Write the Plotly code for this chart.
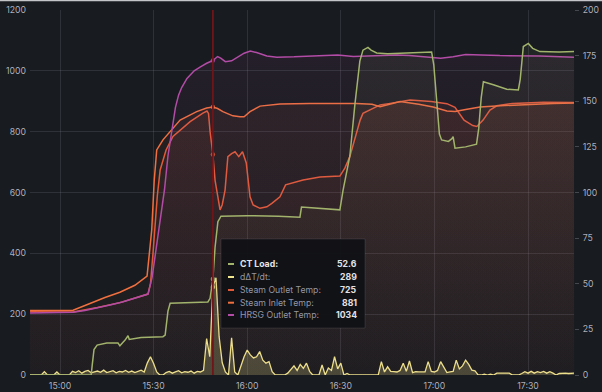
import pandas as pd
import plotly.graph_objects as go

BASE = pd.Timestamp("2024-05-01 15:00:00")


def ts(mins):
    return [BASE + pd.Timedelta(minutes=float(m)) for m in mins]


# ---------------- data (minutes after 15:00) ----------------
# CT Load (right axis)
ct_t = [-9.6, 10.0, 10.3, 10.9, 11.9, 15.0, 18.6, 19.2, 20.2, 20.8,
        21.8, 22.2, 26.0, 33.0, 33.7, 34.6, 35.3, 40.0, 47.4, 48.1,
        49.0, 49.7, 50.6, 51.6, 60.0, 70.0, 76.9, 77.4, 83.3, 88.8,
        89.7, 90.7, 92.9, 94.5, 96.1, 97.1, 98.7, 99.7, 101.5, 105.0,
        110.0, 115.0, 119.1, 119.8, 120.8, 121.6, 122.3, 124.5, 125.6, 126.0,
        126.6, 130.0, 133.5, 134.2, 135.0, 135.7, 138.9, 143.2, 146.9, 147.5,
        148.5, 150.1, 151.5, 153.8, 160.0, 164.8]
ct_v = [0, 0, 5, 14, 16.4, 17.5, 17.5, 16, 18, 19,
        21.5, 19.5, 20.5, 21, 21.9, 35, 39.3, 39.5, 40, 42,
        52.6, 70, 84, 87, 87.3, 87, 86.5, 92, 91.3, 90.4,
        90.5, 101, 120, 148, 172, 178, 179.5, 178, 176.5, 176,
        176.5, 177, 177, 170, 150, 132, 128.8, 128, 129.5, 130.6,
        124.3, 125, 126.5, 135, 152, 160.7, 159, 156.6, 156.2, 162,
        180, 181.7, 179, 177.2, 177, 177.2]

# dDeltaT/dt (left axis), one sample per minute from 14:50
dadt_t = list(range(-10, 166))
dadt_v = [0, 0, 0, 0, 0, 11, 0, 0, 0, 10,
          0, 0, 0, 0, 12, 8, 14, 6, 12, 15,
          7, 10, 13, 9, 16, 8, 11, 14, 7, 12,
          10, 15, 9, 13, 8, 12, 16, 10, 40, 60,
          38, 10, 0, 0, 8, 12, 6, 10, 14, 7,
          11, 9, 13, 6, 12, 10, 15, 120, 60, 289,
          320, 126, 40, 10, 0, 122, 10, 0, 30, 60,
          82, 66, 56, 60, 77, 49, 39, 44, 11, 0,
          0, 0, 0, 6, 18, 30, 15, 35, 22, 39,
          12, 0, 0, 0, 33, 0, 23, 15, 60, 20,
          39, 0, 5, 0, 0, 0, 0, 0, 0, 0,
          0, 0, 0, 44, 10, 27, 12, 11, 10, 15,
          39, 12, 46, 8, 11, 10, 11, 10, 44, 12,
          10, 15, 44, 27, 8, 10, 12, 49, 20, 30,
          49, 35, 16, 14, 0, 0, 3, 0, 3, 0,
          6, 6, 6, 5, 6, 0, 0, 0, 5, 11,
          6, 12, 6, 11, 8, 12, 6, 11, 6, 0,
          5, 6, 6, 5, 6, 6]

# Steam Outlet Temp (left axis)
so_t = [-9.6, 4.2, 12.0, 19.2, 28.2, 29.0, 29.8, 30.4, 31.2, 32.1,
        34.0, 36.2, 41.7, 45.8, 47.1, 47.6, 48.1, 49.0, 49.7, 51.3,
        52.0, 52.9, 53.8, 55.0, 56.1, 57.3, 58.5, 59.7, 60.9, 61.9,
        64.1, 66.3, 67.9, 70.5, 72.3, 77.9, 83.3, 89.7, 91.3, 92.9,
        94.5, 96.2, 97.1, 99.4, 102.6, 105.8, 112.2, 119.0, 124.0, 126.6,
        127.2, 129.5, 132.3, 133.6, 135.6, 137.8, 140.0, 145.0, 155.0, 164.8]
so_v = [208, 207, 222, 238, 266, 300, 400, 477, 590, 674,
        740, 784, 833, 861, 868, 860, 800, 725, 640, 543,
        560, 608, 718, 728, 734, 718, 734, 697, 586, 559,
        548, 553, 564, 586, 625, 641, 651, 654, 680, 718,
        773, 838, 860, 871, 888, 893, 904, 899, 892, 880,
        871, 838, 820, 817, 838, 871, 885, 893, 897, 896]

# Steam Inlet Temp (left axis)
si_t = [-9.6, 4.2, 9.6, 14.4, 19.2, 24.0, 27.9, 28.6, 29.4, 30.2,
        31.0, 33.0, 38.5, 43.8, 47.0, 49.0, 50.5, 52.2, 55.4, 57.7,
        59.0, 60.9, 64.1, 70.5, 80.0, 95.0, 100.0, 102.6, 105.8, 109.0,
        115.0, 119.6, 124.0, 126.6, 130.0, 134.6, 141.0, 150.0, 158.0, 164.8]
si_v = [212, 213, 235, 255, 272, 295, 325, 400, 477, 640,
        740, 773, 838, 866, 878, 881, 876, 866, 852, 849,
        849, 866, 884, 891, 893, 893, 890, 882, 890, 899,
        890, 881, 868, 866, 873, 881, 885, 890, 893, 894]

# HRSG Outlet Temp (left axis)
hr_t = [-9.6, -5.0, 0.0, 4.2, 8.0, 12.0, 16.0, 20.0, 24.0, 28.2,
        29.5, 30.5, 31.5, 32.5, 33.5, 34.6, 35.9, 37.0, 38.0, 39.0,
        40.7, 43.0, 45.0, 47.0, 49.0, 50.5, 51.5, 53.0, 55.0, 57.0,
        59.0, 61.0, 63.0, 66.3, 69.5, 75.0, 80.0, 89.0, 94.0, 102.6,
        108.0, 112.0, 118.0, 122.0, 126.0, 130.0, 135.0, 141.0, 153.8, 164.8]
hr_v = [204, 204, 205, 206, 212, 220, 230, 240, 252, 266,
        320, 390, 460, 530, 610, 720, 815, 880, 920, 945,
        975, 1000, 1013, 1025, 1034, 1047, 1042, 1030, 1033, 1045,
        1058, 1065, 1060, 1049, 1045, 1046, 1048, 1052, 1047, 1049,
        1052, 1050, 1046, 1041, 1046, 1054, 1052, 1050, 1049, 1045]

# hover readout at 15:49
hover_t = 49.0
hover_labels = ["CT Load:", "dΔT/dt:", "Steam Outlet Temp:", "Steam Inlet Temp:", "HRSG Outlet Temp:"]
hover_values = [52.6, 289, 725, 881, 1034]
hover_text = ["52.6", "289", "725", "881", "1034"]

# ---------------- styling ----------------
BG = "#181b1f"
GRID = "rgba(204,204,220,0.13)"
TXT = "rgba(204,204,220,0.85)"
FONT = "Inter"

C_CT = "#a2b36c"
C_DA = "#eee58e"
C_SO = "#e05a3a"
C_SI = "#f0703f"
C_HR = "#b24ca6"


def grad(rgb, a_top, a_bot, top):
    return dict(type="vertical", start=0, stop=top,
                colorscale=[[0, f"rgba({rgb},{a_bot})"], [1, f"rgba({rgb},{a_top})"]])


fig = go.Figure()

fig.add_trace(go.Scatter(x=ts(dadt_t), y=dadt_v, mode="lines", name="dΔT/dt",
                         line=dict(color=C_DA, width=1.3), fill="tozeroy",
                         fillcolor="rgba(238,229,142,0.22)"))
fig.add_trace(go.Scatter(x=ts(so_t), y=so_v, mode="lines", name="Steam Outlet Temp",
                         line=dict(color=C_SO, width=1.5), fill="tozeroy",
                         fillgradient=grad("224,90,58", 0.09, 0.015, 1200)))
fig.add_trace(go.Scatter(x=ts(si_t), y=si_v, mode="lines", name="Steam Inlet Temp",
                         line=dict(color=C_SI, width=1.5), fill="tozeroy",
                         fillgradient=grad("240,112,63", 0.08, 0.015, 1200)))
fig.add_trace(go.Scatter(x=ts(hr_t), y=hr_v, mode="lines", name="HRSG Outlet Temp",
                         line=dict(color=C_HR, width=1.5), fill="tozeroy",
                         fillgradient=grad("178,76,166", 0.085, 0.01, 1200)))
fig.add_trace(go.Scatter(x=ts(ct_t), y=ct_v, mode="lines", name="CT Load", yaxis="y2",
                         line=dict(color=C_CT, width=1.5), fill="tozeroy",
                         fillgradient=grad("162,179,108", 0.08, 0.0, 200)))

# hover points
cols = [C_CT, C_DA, C_SO, C_SI, C_HR]
ht = ts([hover_t])
for i, (lab, val) in enumerate(zip(hover_labels, hover_values)):
    fig.add_trace(go.Scatter(x=ht, y=[val], mode="markers", yaxis="y2" if i == 0 else "y",
                             marker=dict(size=4.5, color=cols[i], opacity=0.8),
                             showlegend=False))

x0 = BASE + pd.Timedelta(minutes=-9.615)
x1 = BASE + pd.Timedelta(minutes=164.74)

shapes = []
# hover / annotation red line
shapes.append(dict(type="line", xref="x", yref="paper", x0=ht[0], x1=ht[0], y0=0, y1=1,
                   line=dict(color="#6e1519", width=1.8), layer="above"))
# tooltip box
PW, PH, PL, PT = 544.0, 365.0, 30.0, 10.0


def px(x):
    return (x - PL) / PW


def py(y):
    return 1 - (y - PT) / PH


shapes.append(dict(type="rect", xref="paper", yref="paper", x0=px(221), x1=px(365),
                   y0=py(328), y1=py(239), fillcolor="rgba(17,18,22,0.96)",
                   line=dict(color="rgba(204,204,220,0.12)", width=1), layer="above"))
# top border of screenshot
shapes.append(dict(type="line", xref="paper", yref="paper", x0=-PL / PW, x1=(602 - PL) / PW,
                   y0=1 + 9.5 / PH, y1=1 + 9.5 / PH, line=dict(color="#c4c5c9", width=1.5)))

annotations = []
rows_y = [264, 277, 290, 302.7, 315]
for i, (lab, txt) in enumerate(zip(hover_labels, hover_text)):
    yy = py(rows_y[i])
    shapes.append(dict(type="line", xref="paper", yref="paper", x0=px(228), x1=px(234),
                       y0=yy, y1=yy, line=dict(color=cols[i], width=2), layer="above"))
    if i == 0:
        lab_txt = f"<b>{lab}</b>"
        lab_col = "#e6e6ea"
    else:
        lab_txt = lab
        lab_col = "rgba(204,204,220,0.72)"
    annotations.append(dict(xref="paper", yref="paper", x=px(237.5), y=yy, text=lab_txt,
                            showarrow=False, xanchor="left", yanchor="middle",
                            font=dict(family=FONT, size=8.7, color=lab_col)))
    annotations.append(dict(xref="paper", yref="paper", x=px(358.5), y=yy, text=f"<b>{txt}</b>",
                            showarrow=False, xanchor="right", yanchor="middle",
                            font=dict(family=FONT, size=8.7, color="#e2e2e6")))

fig.update_layout(
    width=602, height=392,
    margin=dict(l=30, r=28, t=10, b=17),
    paper_bgcolor=BG, plot_bgcolor=BG,
    showlegend=False,
    font=dict(family=FONT, size=8.7, color=TXT),
    shapes=shapes, annotations=annotations,
    xaxis=dict(type="date", range=[x0, x1], tick0=BASE, dtick=30 * 60 * 1000,
               tickformat="%H:%M", showgrid=True, gridcolor=GRID, gridwidth=1,
               zeroline=False, showline=False, ticks="", ticklabelstandoff=4,
               tickfont=dict(family=FONT, size=8.7, color=TXT), automargin=False),
    yaxis=dict(range=[0, 1200], dtick=200, showgrid=True, gridcolor=GRID, gridwidth=1,
               zeroline=False, showline=False, ticks="", ticklabelstandoff=3,
               tickfont=dict(family=FONT, size=8.7, color=TXT), automargin=False),
    yaxis2=dict(range=[0, 200], dtick=25, overlaying="y", side="right", showgrid=False,
                zeroline=False, showline=False, ticks="outside", ticklen=4,
                tickcolor="rgba(204,204,220,0.25)", ticklabelstandoff=2,
                tickfont=dict(family=FONT, size=8.7, color=TXT), automargin=False),
)

fig.write_html("out.html")
